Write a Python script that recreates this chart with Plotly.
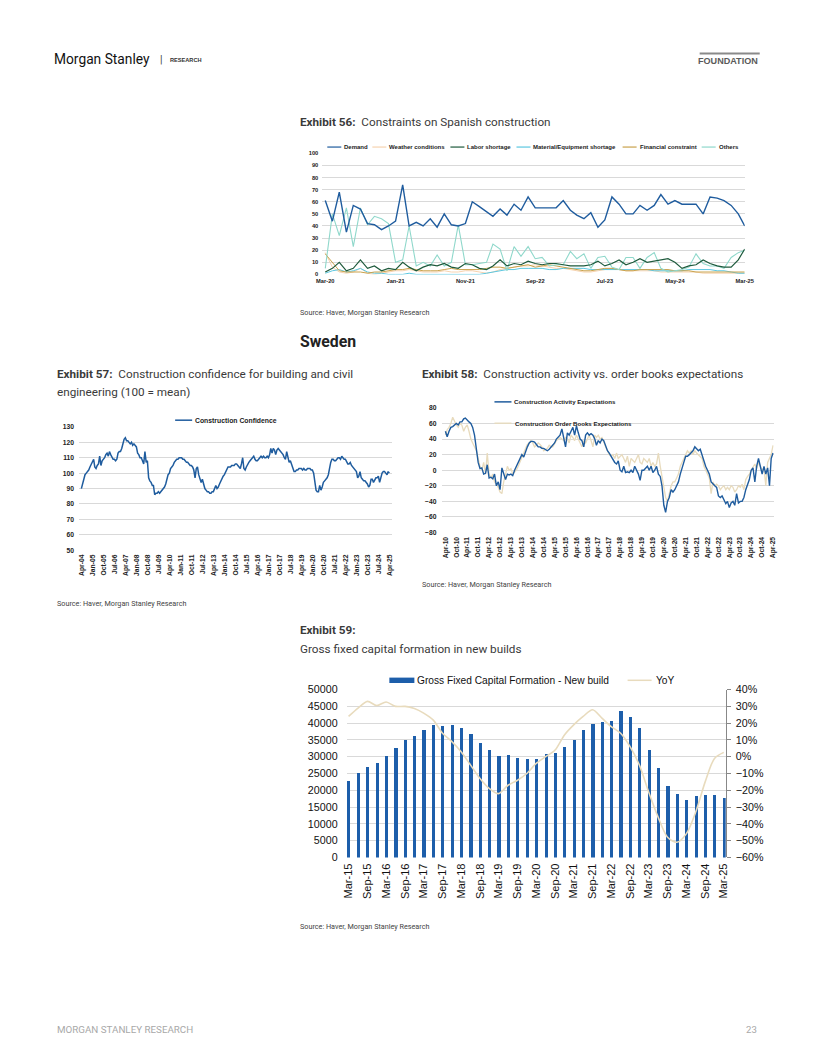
import plotly.graph_objects as go
import pandas as pd

# Page placement: body keeps its default 8px margin; figure is 800x1040.
# The captured picture shows the page with a small fixed scale/offset, compensated here.
PAGE_OFF = 8
W, H = 800, 1040
SX, BX = 0.979, 7.2
SY, BY = 0.985, 6.5
SY2, BY2 = 0.988, 5.1


def fx(p):
    return ((p - BX) / SX - PAGE_OFF) / W


def qy(p):
    q1 = (p - BY) / SY
    o1 = BY2 + SY2 * q1
    return q1 - (o1 - p) / SY2


def fy(p):
    return 1 - (qy(p) - PAGE_OFF) / H


FS = 1.02  # font compensation

# ---------------- Exhibit 56 (monthly, Mar-20 .. Mar-25) ----------------
ex56_start = "2020-03-01"
ex56_demand = [61,44,68,35,57,54,42,41,37,40, 44,74,40,43,40,46,39,50,41,40,
               42,60,56,52,48,54,49,58,53,64, 55,55,55,55,61,53,49,46,51,39,
               45,64,58,50,50,57,53,57,66,58, 61,58,58,58,50,64,63,61,57,50, 40]
ex56_weather = [18,6,2,1,2,5,1,0,1,2, 3,3,4,3,2,2,2,3,2,2, 3,3,2,1,2,4,5,6,7,7,
                8,7,6,5,5,4,3,2,2,3, 4,5,4,3,3,3,3,3,2,2, 2,2,2,2,1,1,1,1,1,1, 1]
ex56_labor = [2,5,10,3,5,12,5,7,3,5, 4,10,6,3,6,8,7,9,6,5, 9,8,5,4,7,12,7,9,8,11,
              9,8,9,9,8,7,7,7,8,11, 7,9,12,8,10,13,10,11,12,13, 10,5,7,8,12,9,7,6,6,12, 21]
ex56_material = [1,3,4,2,3,5,2,1,1,0, 0,0,1,0,0,0,0,0,0,0, 0,0,0,1,2,3,4,4,5,5,
                 5,5,4,4,5,5,5,5,4,4, 4,4,4,4,4,4,4,3,3,3, 3,3,4,4,4,4,3,3,2,1, 1]
ex56_financial = [17,10,3,2,2,2,1,2,2,3, 4,4,5,4,3,3,3,4,5,4, 4,4,4,5,6,6,5,6,7,8,
                  6,7,8,7,6,5,4,3,3,4, 5,5,4,3,3,4,4,4,4,4, 3,3,3,2,2,2,2,2,2,2, 2]
ex56_others = [5,50,32,55,23,55,41,48,46,42, 10,12,40,7,10,7,16,7,10,41,
               8,8,9,10,25,21,3,23,15,23, 13,14,7,8,8,19,13,17,5,14,
               15,6,4,14,14,5,14,18,5,2, 3,4,6,17,9,7,7,5,14,18, 20]
ex56_names = ["Demand", "Weather conditions", "Labor shortage",
              "Material/Equipment shortage", "Financial constraint", "Others"]

# ---------------- Exhibit 57 (monthly, Apr-04 .. Apr-25) ----------------
ex57_start = "2004-04-01"
ex57_confidence = [
    90,93,96,99,100,101,102,104,106,108,109,104,
    103,105,106,111,105,108,109,110,112,113,111,114,
    112,110,109,109,108,109,113,114,114,116,119,122,
    123,121,121,120,119,120,118,119,118,117,113,112,
    110,110,108,106,114,107,108,97,95,94,92,92,
    86,87,87,88,87,88,89,90,91,93,96,99,
    100,103,104,105,107,108,109,109,110,110,110,109,
    109,108,107,107,106,105,105,104,102,97,103,104,
    99,96,94,96,92,90,89,88,88,87,87,88,
    88,90,92,90,91,93,95,96,98,99,101,103,
    104,104,104,105,105,105,106,106,105,104,103,106,
    110,103,102,104,106,107,108,109,110,111,109,108,
    108,109,110,111,110,111,110,110,111,110,112,116,
    113,116,115,112,115,116,115,114,113,112,110,109,
    114,111,107,108,106,104,101,101,102,102,103,103,
    103,102,103,102,102,103,103,103,102,102,100,95,
    89,88,88,92,89,91,94,95,96,97,99,104,
    107,109,109,108,108,109,110,110,109,111,110,109,
    109,107,106,106,107,105,104,103,102,101,97,98,
    101,97,96,95,95,94,93,91,92,96,96,94,
    96,97,97,98,94,97,100,101,101,100,99,101,
    100]

# ---------------- Exhibit 58 (monthly, Apr-10 .. Apr-25) ----------------
ex58_start = "2010-04-01"
ex58_activity = [
    50,43,50,55,56,58, 60,58,62,62,66,67, 64,62,60,55,45,25, 10,2,3,-5,-4,7,
    -10,-9,-11,-5,-20,-15, -25,3,-5,-12,-5,-6, -5,-7,0,5,10,15, 20,17,25,30,35,37,
    37,36,33,30,30,28, 28,26,25,27,30,32, 35,40,42,45,53,40, 30,48,45,50,55,45,
    57,48,40,38,30,45, 48,45,47,45,40,32, 38,35,40,38,30,25, 22,18,15,10,8,12,
    0,-2,5,-3,-2,-3, 0,-3,5,0,-5,-13, 0,0,3,5,0,5, -3,0,5,-5,-8,-20,
    -45,-54,-40,-35,-25,-28, -25,-20,-15,-5,5,10, 18,18,20,22,25,30, 28,25,27,20,10,5,
    0,-5,-15,-18,-20,-22, -33,-35,-33,-38,-43,-40, -48,-42,-40,-45,-30,-42, -40,-40,-35,-25,-18,-12,
    0,3,-15,5,15,5, -5,5,-5,3,-20,15, 22]
ex58_orders = [
    45,52,55,60,68,62, 58,55,60,58,50,55, 58,50,40,35,30,25, 15,5,0,10,-5,22,
    -5,-10,-5,-15,-18,-22, -28,-30,-15,-5,5,0, 2,-5,-3,0,5,10, 15,22,28,33,35,38,
    35,30,32,35,33,30, 25,27,28,32,30,30, 35,38,40,42,40,38, 42,40,35,45,42,38,
    45,40,35,30,38,35, 40,45,38,30,45,42, 45,40,42,35,30,25, 20,18,20,15,22,15,
    18,20,15,10,18,5, 15,12,10,15,20,10, 8,15,12,10,15,5, 10,5,8,22,5,-10,
    -25,-35,-40,-30,-20,-15, -15,-10,-5,5,10,15, 20,25,22,25,20,25, 22,20,18,15,5,0,
    -5,-10,-30,-15,-20,-18, -20,-25,-22,-20,-25,-22, -25,-20,-22,-28,-25,-20, -22,-18,-25,-12,-8,-5,
    0,5,8,2,10,5, 0,3,-20,10,15,20, 32]

# ---------------- Exhibit 59 (quarterly, Mar-15 .. Mar-25) ----------------
ex59_start = "2015-03-01"
ex59_gfcf = [22800,25150,27140,28230,30220,32600,35190,36380,37970,39560,
             39360,39560,38570,36780,34100,32200,30220,30600,29620,29330,
             29420,30820,31110,33100,34990,37970,39960,40560,40860,43740,
             42050,38670,32010,26740,21470,18890,17300,18390,18590,18590,17700]
ex59_yoy = [0.24,0.29,0.33,0.305,0.326,0.30,0.30,0.287,0.26,0.22,
            0.14,0.09,0.03,-0.05,-0.13,-0.19,-0.22,-0.17,-0.14,-0.10,
            -0.04,0.00,0.04,0.13,0.19,0.24,0.28,0.23,0.18,0.14,
            0.06,-0.05,-0.21,-0.36,-0.48,-0.51,-0.46,-0.33,-0.15,-0.01,0.026]

d56 = pd.date_range(ex56_start, periods=len(ex56_demand), freq="MS")
d57 = pd.date_range(ex57_start, periods=len(ex57_confidence), freq="MS")
d58 = pd.date_range(ex58_start, periods=len(ex58_activity), freq="MS")
d59 = pd.date_range(ex59_start, periods=len(ex59_gfcf), freq="3MS")

BLUE = "#1f5c9e"
BAR = "#1d5eaa"
BEIGE = "#e8dbbd"
c56 = [BLUE, "#f6d3b0", "#1e5a3c", "#5cc7e0", "#c9a24c", "#8fd8cb"]
w56 = [1.4, 1.0, 1.2, 1.0, 1.0, 1.1]
FA = "Liberation Sans, Arial, sans-serif"
FR = "Roboto, Liberation Sans, sans-serif"

fig = go.Figure()
series56 = [ex56_demand, ex56_weather, ex56_labor, ex56_material, ex56_financial, ex56_others]
order = [1, 3, 4, 5, 2, 0]
for i in order:
    fig.add_trace(go.Scatter(x=d56, y=series56[i], mode="lines", name=ex56_names[i],
                             line=dict(color=c56[i], width=w56[i]), xaxis="x", yaxis="y"))

fig.add_trace(go.Scatter(x=d57, y=ex57_confidence, mode="lines", name="Construction Confidence",
                         line=dict(color=BLUE, width=1.5), xaxis="x2", yaxis="y2"))

fig.add_trace(go.Scatter(x=d58, y=ex58_orders, mode="lines", name="Construction Order Books Expectations",
                         line=dict(color=BEIGE, width=1.3), xaxis="x3", yaxis="y3"))
fig.add_trace(go.Scatter(x=d58, y=ex58_activity, mode="lines", name="Construction Activity Expectations",
                         line=dict(color=BLUE, width=1.4), xaxis="x3", yaxis="y3"))

fig.add_trace(go.Bar(x=d59, y=ex59_gfcf, name="Gross Fixed Capital Formation - New build",
                     marker=dict(color=BAR, line=dict(width=0)), width=30 * 86400000,
                     xaxis="x4", yaxis="y4"))
fig.add_trace(go.Scatter(x=d59, y=ex59_yoy, mode="lines", name="YoY",
                         line=dict(color=BEIGE, width=1.6, shape="spline", smoothing=0.8),
                         xaxis="x4", yaxis="y5"))

small_tick = dict(size=5.6 * FS, family=FA, color="#222", weight="bold")
tick57 = dict(size=6.6 * FS, family=FA, color="#222", weight="bold")
tick59 = dict(size=10.5 * FS, family=FA, color="#111")
GRID = "#d9d9d9"

fig.update_layout(
    width=W, height=H, autosize=False, showlegend=False,
    margin=dict(l=0, r=0, t=0, b=0),
    paper_bgcolor="white", plot_bgcolor="white", bargap=0,
    xaxis=dict(domain=[fx(323), fx(745)], anchor="y", type="date",
               range=["2020-02-17", "2025-03-01"], tick0="2020-03-01", dtick="M10",
               tickformat="%b-%y", showgrid=False, zeroline=False, showline=False,
               ticks="", tickfont=small_tick, ticklabelstandoff=2),
    yaxis=dict(domain=[fy(273.3), fy(152.3)], anchor="x", range=[0, 100], dtick=10,
               gridcolor=GRID, gridwidth=1, zeroline=False, showline=False, ticks="",
               tickfont=small_tick, ticklabelstandoff=3),
    xaxis2=dict(domain=[fx(80), fx(393)], anchor="y2", type="date",
                range=["2004-02-03", "2025-06-14"], tick0="2004-04-01", dtick="M9",
                tickformat="%b-%y", tickangle=-90, showgrid=False, zeroline=False,
                showline=False, ticks="", tickfont=tick57, ticklabelstandoff=2),
    yaxis2=dict(domain=[fy(549), fy(425.7)], anchor="x2", range=[50, 130], dtick=10,
                gridcolor=GRID, zeroline=False, showline=False, ticks="",
                tickfont=tick57, ticklabelstandoff=4),
    xaxis3=dict(domain=[fx(443), fx(774)], anchor="y3", type="date",
                range=["2010-02-10", "2025-04-13"], tick0="2010-04-01", dtick="M6",
                tickformat="%b-%y", tickangle=-90, showgrid=False, zeroline=False,
                showline=False, ticks="", tickfont=tick57, ticklabelstandoff=2),
    yaxis3=dict(domain=[fy(531.3), fy(406.7)], anchor="x3", range=[-80, 80], dtick=20,
                gridcolor=GRID, zeroline=False, showline=False, ticks="",
                tickfont=tick57, ticklabelstandoff=5),
    xaxis4=dict(domain=[fx(347.3), fx(726)], anchor="y4", type="date",
                range=["2015-02-10", "2025-03-20"], tick0="2015-03-01", dtick="M6",
                tickformat="%b-%y", tickangle=-90, showgrid=False, zeroline=False,
                showline=False, ticks="",
                tickfont=dict(size=10.8 * FS, family=FA, color="#111"),
                ticklabelstandoff=3),
    yaxis4=dict(domain=[fy(856), fy(688.3)], anchor="x4", range=[0, 50000], dtick=5000,
                tickformat="d", gridcolor=GRID, zeroline=False, showline=False, ticks="",
                tickfont=tick59, ticklabelstandoff=8),
    yaxis5=dict(domain=[fy(856), fy(688.3)], anchor="x4", overlaying="y4", side="right",
                range=[-0.6, 0.4], dtick=0.1, tickformat=".0%", showgrid=False,
                zeroline=False, showline=True, linecolor="#888", linewidth=1,
                ticks="outside", ticklen=4, tickcolor="#888", tickfont=tick59,
                ticklabelstandoff=3),
)

ann = []
shapes = []


def text(x, y, s, size, color="#222", family=FR, xanchor="left", weight="normal"):
    ann.append(dict(x=fx(x), y=fy(y), xref="paper", yref="paper", text=s, showarrow=False,
                    xanchor=xanchor, yanchor="middle",
                    font=dict(size=size * FS, color=color, family=family, weight=weight)))


def hline(x0, x1, y, color, width):
    shapes.append(dict(type="line", xref="paper", yref="paper", x0=fx(x0), x1=fx(x1),
                       y0=fy(y), y1=fy(y), line=dict(color=color, width=width)))


# Header / footer
text(53, 58, "Morgan Stanley", 13.5, "#111", FR)
text(159, 58, "|", 10, "#333", FR)
text(169, 58.5, "RESEARCH", 5.5, "#333", FA, weight="bold")
hline(700, 760, 52.5, "#8a8a8a", 2)
text(760, 59.5, "FOUNDATION", 8.9, "#5a5a5a", FA, xanchor="right", weight="bold")
text(56, 1028, "MORGAN STANLEY RESEARCH", 9.6, "#a8a8a8", FR)
text(759, 1028, "23", 9.4, "#a8a8a8", FR, xanchor="right")

# Exhibit titles
TC = "#3a3a3a"
TS = 11.5
SS = 7.1
text(299, 121, "<b>Exhibit 56:</b>\u00a0 Constraints on Spanish construction", TS, TC)
text(299, 311, "Source: Haver, Morgan Stanley Research", SS, "#444")
text(299, 340, "<b>Sweden</b>", 15.5, "#222")
text(56, 373, "<b>Exhibit 57:</b>\u00a0 Construction confidence for building and civil", TS, TC)
text(56, 391, "engineering (100 = mean)", TS, TC)
text(56, 602, "Source: Haver, Morgan Stanley Research", SS, "#444")
text(421, 373, "<b>Exhibit 58:</b>\u00a0 Construction activity vs. order books expectations", TS, TC)
text(421, 583, "Source: Haver, Morgan Stanley Research", SS, "#444")
text(299, 629, "<b>Exhibit 59:</b>", TS, TC)
text(299, 648, "Gross fixed capital formation in new builds", TS, TC)
text(299, 925, "Source: Haver, Morgan Stanley Research", SS, "#444")

# Exhibit 56 legend
leg56 = [(328, 0), (373, 1), (451, 2), (517, 3), (623, 4), (702, 5)]
for x0, i in leg56:
    hline(x0, x0 + 14, 146, c56[i], 1.2)
    text(x0 + 15, 146, ex56_names[i], 5.9, "#222", FA, weight="bold")

# Exhibit 57 legend
hline(176, 193, 419, BLUE, 1.5)
text(194, 419, "Construction Confidence", 6.7, "#222", FA, weight="bold")

# Exhibit 58 legend
hline(495, 512, 400.7, BLUE, 1.5)
text(513, 400.7, "Construction Activity Expectations", 6, "#222", FA, weight="bold")
hline(495, 512, 422, BEIGE, 1.3)
text(514, 422, "Construction Order Books Expectations", 6, "#222", FA, weight="bold")

# Exhibit 59 legend
shapes.append(dict(type="rect", xref="paper", yref="paper", x0=fx(390), x1=fx(415),
                   y0=fy(681.7), y1=fy(676.3), fillcolor=BAR, line=dict(width=0)))
text(416, 679, "Gross Fixed Capital Formation - New build", 10, "#111", FA)
hline(628, 652, 679, BEIGE, 1.5)
text(654, 679, "YoY", 10, "#111", FA)

fig.update_layout(annotations=ann, shapes=shapes)
fig.write_html("out.html", config={"displayModeBar": False})
